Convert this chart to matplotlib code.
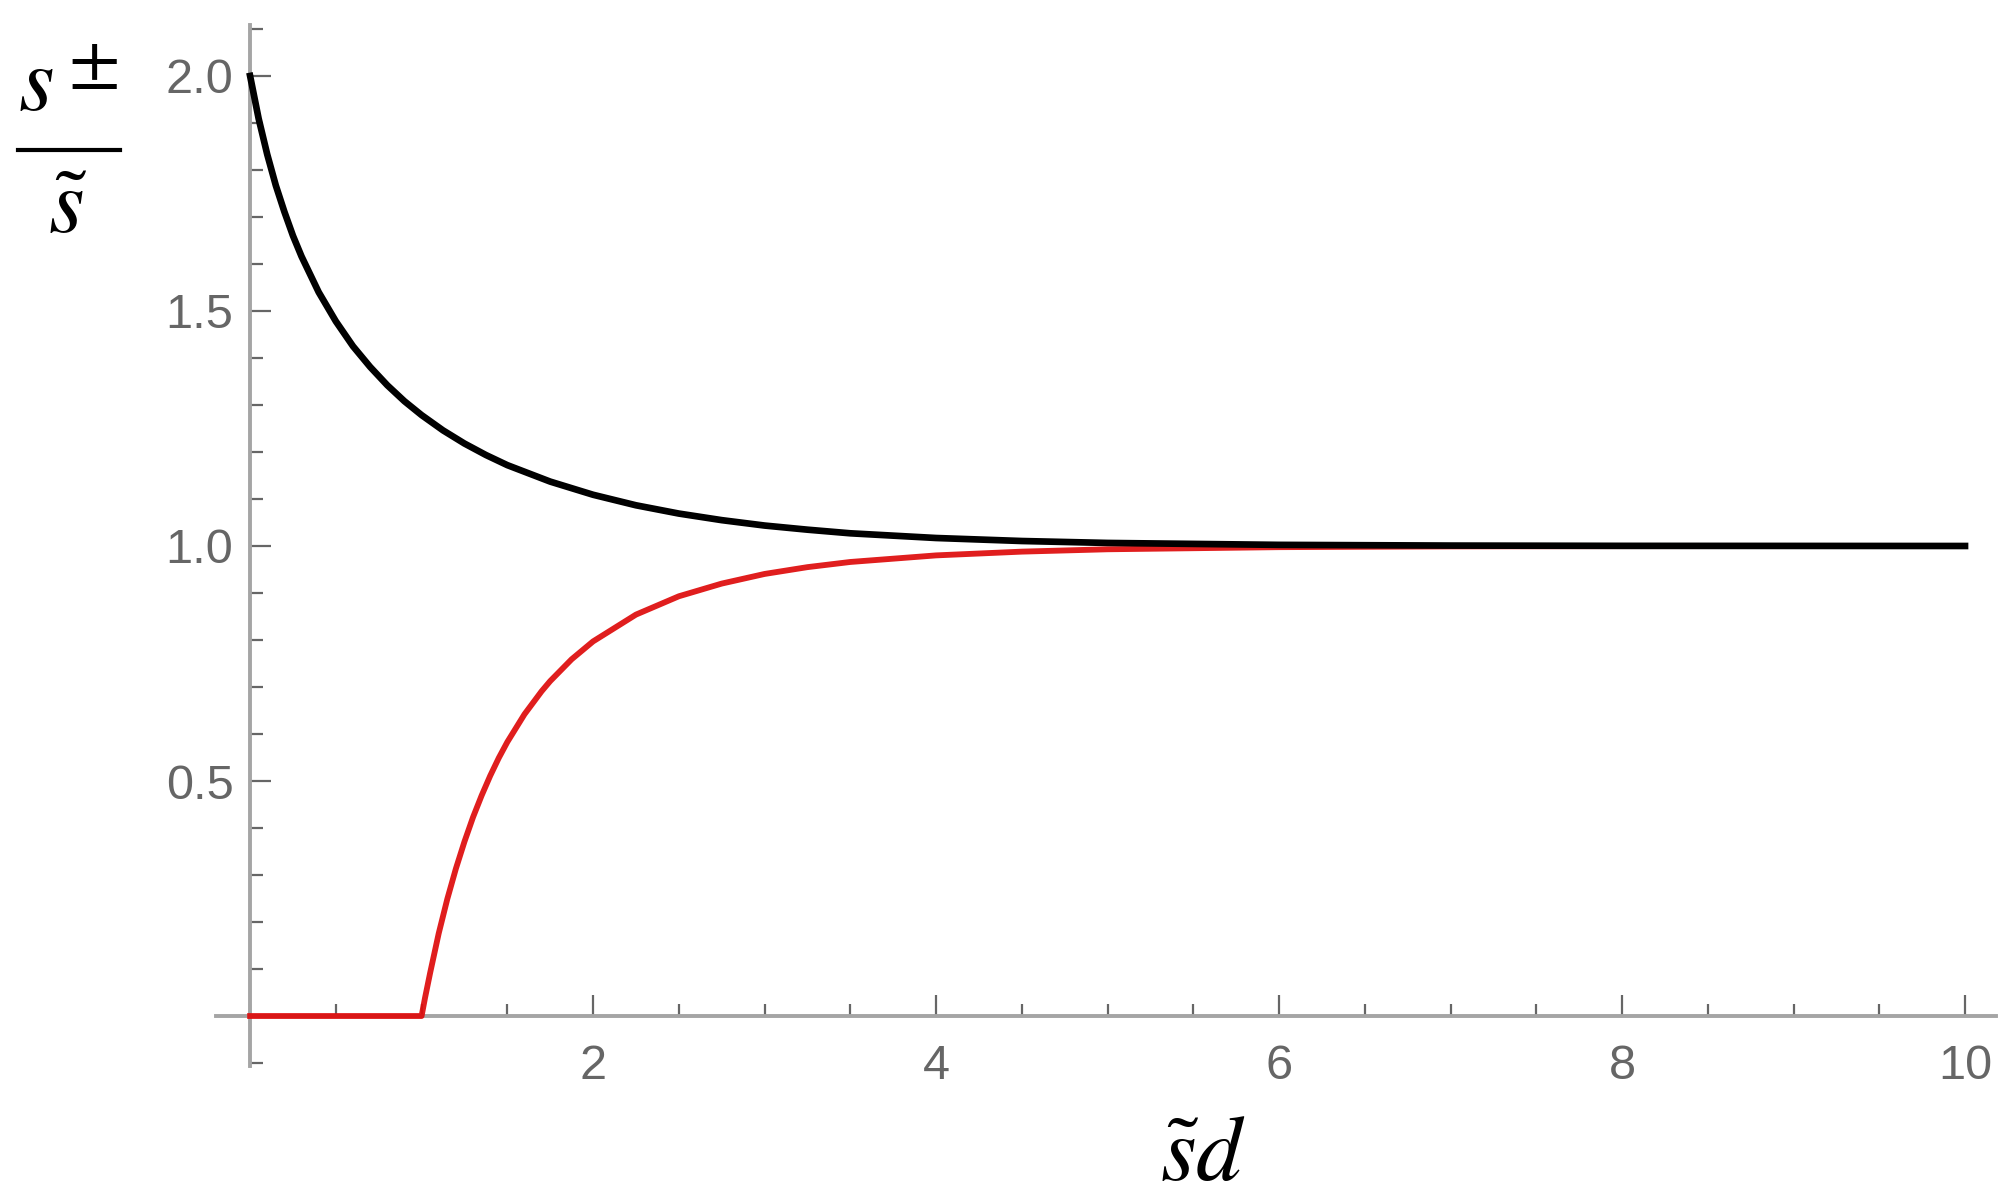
import matplotlib
matplotlib.use("Agg")
import matplotlib.pyplot as plt
from matplotlib.lines import Line2D
from matplotlib.ticker import MultipleLocator, FixedLocator

# ---- data ----
x_plus = [0, 0.05, 0.1, 0.15, 0.2, 0.25, 0.3, 0.4, 0.5, 0.6, 0.7, 0.8, 0.9, 1.0,
          1.125, 1.25, 1.375, 1.5, 1.75, 2, 2.25, 2.5, 2.75, 3, 3.25, 3.5, 4,
          4.5, 5, 6, 7, 8, 10]
y_plus = [2.0, 1.909, 1.833, 1.767, 1.711, 1.660, 1.616, 1.540, 1.478, 1.425,
          1.381, 1.342, 1.308, 1.2785, 1.246, 1.218, 1.1936, 1.172, 1.137,
          1.109, 1.0866, 1.069, 1.055, 1.0435, 1.0347, 1.027, 1.017, 1.0106,
          1.0065, 1.0024, 1.0009, 1.0003, 1.0]

x_minus = [0, 1.0, 1.02, 1.05, 1.1, 1.15, 1.2, 1.25, 1.3, 1.35, 1.4, 1.45, 1.5,
           1.6, 1.7, 1.75, 1.875, 2, 2.25, 2.5, 2.75, 3, 3.25, 3.5, 4, 4.5, 5,
           6, 7, 8, 10]
y_minus = [0, 0, 0.0385, 0.092, 0.176, 0.249, 0.3135, 0.371, 0.423, 0.469,
           0.511, 0.549, 0.583, 0.642, 0.691, 0.7126, 0.759, 0.797, 0.854,
           0.893, 0.920, 0.9405, 0.955, 0.966, 0.980, 0.988, 0.993, 0.9975,
           0.9991, 0.9997, 1.0]

x_major = [2, 4, 6, 8, 10]
x_labels = ["2", "4", "6", "8", "10"]
y_major = [0.5, 1.0, 1.5, 2.0]
y_labels = ["0.5", "1.0", "1.5", "2.0"]

plt.rcParams['mathtext.fontset'] = 'stix'

W, H = 2013, 1200
fig = plt.figure(figsize=(W / 100, H / 100), dpi=100)
ax = fig.add_axes([0.1072, 0.1118, 0.8843, 0.8672])
ax.set_xlim(-0.2, 10.18)
ax.set_ylim(-0.106, 2.108)

ax.plot(x_minus, y_minus, color='#de0a0a', lw=4.2, zorder=3, solid_joinstyle='round',
        alpha=0.92)
ax.plot(x_plus, y_plus, color='black', lw=4.8, zorder=4, solid_joinstyle='round')

for s in ['top', 'right']:
    ax.spines[s].set_visible(False)
for s in ['left', 'bottom']:
    ax.spines[s].set_position(('data', 0))
    ax.spines[s].set_color('#a5a5a5')
    ax.spines[s].set_linewidth(2.8)
    ax.spines[s].set_zorder(2)

ax.xaxis.set_major_locator(FixedLocator(x_major))
ax.set_xticklabels(x_labels)
ax.xaxis.set_minor_locator(MultipleLocator(0.5))
ax.yaxis.set_major_locator(FixedLocator(y_major))
ax.set_yticklabels(y_labels)
ax.yaxis.set_minor_locator(MultipleLocator(0.1))

ax.tick_params(which='both', direction='in', color='#666666', width=1.6)
ax.tick_params(which='major', length=15)
ax.tick_params(which='minor', length=9)
ax.tick_params(axis='x', which='major', pad=20)
ax.tick_params(axis='y', which='major', pad=12)
for lab in ax.get_xticklabels() + ax.get_yticklabels():
    lab.set_fontfamily('Liberation Sans')
    lab.set_fontsize(35)
    lab.set_color('#666666')

def fx(px):
    return px / W

def fy(py):
    return 1 - py / H

# y label as a fraction
fig.text(fx(18), fy(110), r'$s$', fontsize=66, ha='left', va='baseline')
fig.text(fx(68), fy(82), r'$\pm$', fontsize=54, ha='left', va='baseline')
fig.add_artist(Line2D([fx(18), fx(120)], [fy(150), fy(150)], color='black', lw=3,
                      transform=fig.transFigure))
fig.text(fx(68), fy(233), r'$\tilde{s}$', fontsize=66, ha='center', va='baseline')

# x label
fig.text(fx(1203), fy(1180), r'$\tilde{s}d$', fontsize=66, ha='center', va='baseline')

fig.savefig('out.png', dpi=100, facecolor='white')
